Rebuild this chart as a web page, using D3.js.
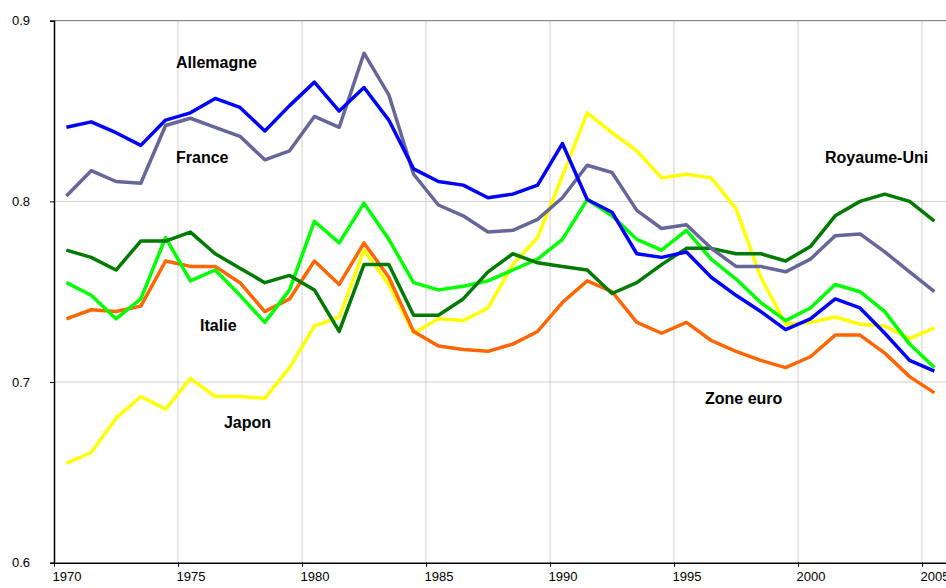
<!DOCTYPE html>
<html>
<head>
<meta charset="utf-8">
<script src="https://cdn.jsdelivr.net/npm/d3@7"></script>
<style>
  body { margin: 0; background: #fff; }
  svg { display: block; font-family: Arial, "Liberation Sans", sans-serif; }
  .grid line { stroke: #cfcfcf; stroke-width: 1; }
  .axis path, .axis line { stroke: #000; }
  .axis text { font-size: 13px; fill: #000; }
  .label { font-size: 16px; font-weight: bold; fill: #000; }
</style>
</head>
<body>
<svg width="946" height="588"></svg>
<script>
// years 1970..2005, one value per year
const years = d3.range(1970, 2006);

const allemagne = [0.841, 0.844, 0.838, 0.831, 0.845, 0.849, 0.857, 0.852, 0.839, 0.853,
  0.866, 0.850, 0.863, 0.845, 0.818, 0.811, 0.809, 0.802, 0.804, 0.809,
  0.832, 0.801, 0.794, 0.771, 0.769, 0.772, 0.758, 0.748, 0.739, 0.729,
  0.735, 0.746, 0.741, 0.727, 0.712, 0.706];

const france = [0.803, 0.817, 0.811, 0.810, 0.842, 0.846, 0.841, 0.836, 0.823, 0.828,
  0.847, 0.841, 0.882, 0.859, 0.815, 0.798, 0.792, 0.783, 0.784, 0.790,
  0.802, 0.820, 0.816, 0.795, 0.785, 0.787, 0.774, 0.764, 0.764, 0.761,
  0.768, 0.781, 0.782, 0.772, 0.761, 0.750];

const royaumeUni = [0.773, 0.769, 0.762, 0.778, 0.778, 0.783, 0.771, 0.763, 0.755, 0.759,
  0.751, 0.728, 0.765, 0.765, 0.737, 0.737, 0.746, 0.761, 0.771, 0.766,
  0.764, 0.762, 0.749, 0.755, 0.765, 0.774, 0.774, 0.771, 0.771, 0.767,
  0.775, 0.792, 0.800, 0.804, 0.800, 0.789];

const italie = [0.755, 0.748, 0.735, 0.746, 0.780, 0.756, 0.762, 0.748, 0.733, 0.751,
  0.789, 0.777, 0.799, 0.779, 0.755, 0.751, 0.753, 0.756, 0.762, 0.768,
  0.779, 0.801, 0.792, 0.779, 0.773, 0.784, 0.768, 0.757, 0.744, 0.734,
  0.741, 0.754, 0.750, 0.739, 0.721, 0.708];

const zoneEuro = [0.735, 0.740, 0.739, 0.742, 0.767, 0.764, 0.764, 0.755, 0.739, 0.746,
  0.767, 0.754, 0.777, 0.758, 0.728, 0.720, 0.718, 0.717, 0.721, 0.728,
  0.744, 0.756, 0.750, 0.733, 0.727, 0.733, 0.723, 0.717, 0.712, 0.708,
  0.714, 0.726, 0.726, 0.716, 0.703, 0.694];

const japon = [0.655, 0.661, 0.680, 0.692, 0.685, 0.702, 0.692, 0.692, 0.691, 0.708,
  0.731, 0.736, 0.773, 0.754, 0.727, 0.735, 0.734, 0.741, 0.765, 0.780,
  0.814, 0.849, 0.838, 0.828, 0.813, 0.815, 0.813, 0.796, 0.758, 0.732,
  0.733, 0.736, 0.732, 0.731, 0.724, 0.730];

const series = [
  { name: "Japon", values: japon, color: "#ffff00" },
  { name: "Zone euro", values: zoneEuro, color: "#ff6600" },
  { name: "Italie", values: italie, color: "#00ff00" },
  { name: "Royaume-Uni", values: royaumeUni, color: "#007a00" },
  { name: "France", values: france, color: "#666699" },
  { name: "Allemagne", values: allemagne, color: "#0000ff" }
];

const yTicks = [0.6, 0.7, 0.8, 0.9];
const xTicks = [1970, 1975, 1980, 1985, 1990, 1995, 2000, 2005];

// text labels placed in data space
const labels = [
  { text: "Allemagne", year: 1974.92, value: 0.877 },
  { text: "France", year: 1974.92, value: 0.8246 },
  { text: "Italie", year: 1975.89, value: 0.7312 },
  { text: "Japon", year: 1976.85, value: 0.6779 },
  { text: "Zone euro", year: 1996.25, value: 0.6912 },
  { text: "Royaume-Uni", year: 2001.09, value: 0.8242 }
];

const svg = d3.select("svg");
const plotLeft = 54, plotRight = 946.8, plotTop = 20.7, plotBottom = 562.7;

const x = d3.scaleLinear().domain([1970, 2006]).range([plotLeft, plotRight]);
const y = d3.scaleLinear().domain([0.6, 0.9]).range([plotBottom, plotTop]);
const half = (x(1971) - x(1970)) / 2;

// gridlines
const grid = svg.append("g").attr("class", "grid");
grid.selectAll(".vg")
  .data(xTicks.slice(1))
  .enter()
  .append("line")
  .attr("x1", d => x(d)).attr("x2", d => x(d))
  .attr("y1", plotTop).attr("y2", plotBottom);
grid.selectAll(".hg")
  .data([0.7, 0.8])
  .enter()
  .append("line")
  .attr("x1", plotLeft).attr("x2", plotRight)
  .attr("y1", d => y(d)).attr("y2", d => y(d));

// top border of the plot area
svg.append("line")
  .attr("x1", plotLeft).attr("x2", plotRight)
  .attr("y1", y(0.9)).attr("y2", y(0.9))
  .attr("stroke", "#8c8c8c")
  .attr("stroke-width", 1.2);

// lines
const line = d3.line()
  .x((d, i) => x(years[i] + 0.5))
  .y(d => y(d));

svg.selectAll(".series")
  .data(series)
  .enter()
  .append("path")
  .attr("class", "series")
  .attr("fill", "none")
  .attr("stroke", d => d.color)
  .attr("stroke-width", 3.5)
  .attr("stroke-linejoin", "round")
  .attr("d", d => line(d.values));

// axes
svg.append("g")
  .attr("class", "axis")
  .attr("transform", `translate(${plotLeft},0)`)
  .call(d3.axisLeft(y).tickValues(yTicks).tickFormat(d3.format(".1f")).tickSize(4).tickPadding(20))
  .call(g => g.select(".domain").attr("stroke-width", 1.5));

svg.append("g")
  .attr("class", "axis")
  .attr("transform", `translate(0,${plotBottom})`)
  .call(d3.axisBottom(x).tickValues(xTicks).tickFormat(d3.format("d")).tickSize(4).tickSizeOuter(0).tickPadding(5))
  .call(g => g.select(".domain").attr("stroke-width", 1.5))
  .call(g => g.selectAll(".tick text").attr("x", half));

// series labels
svg.selectAll(".label")
  .data(labels)
  .enter()
  .append("text")
  .attr("class", "label")
  .attr("x", d => x(d.year))
  .attr("y", d => y(d.value))
  .attr("dy", "0.35em")
  .text(d => d.text);
</script>
</body>
</html>
